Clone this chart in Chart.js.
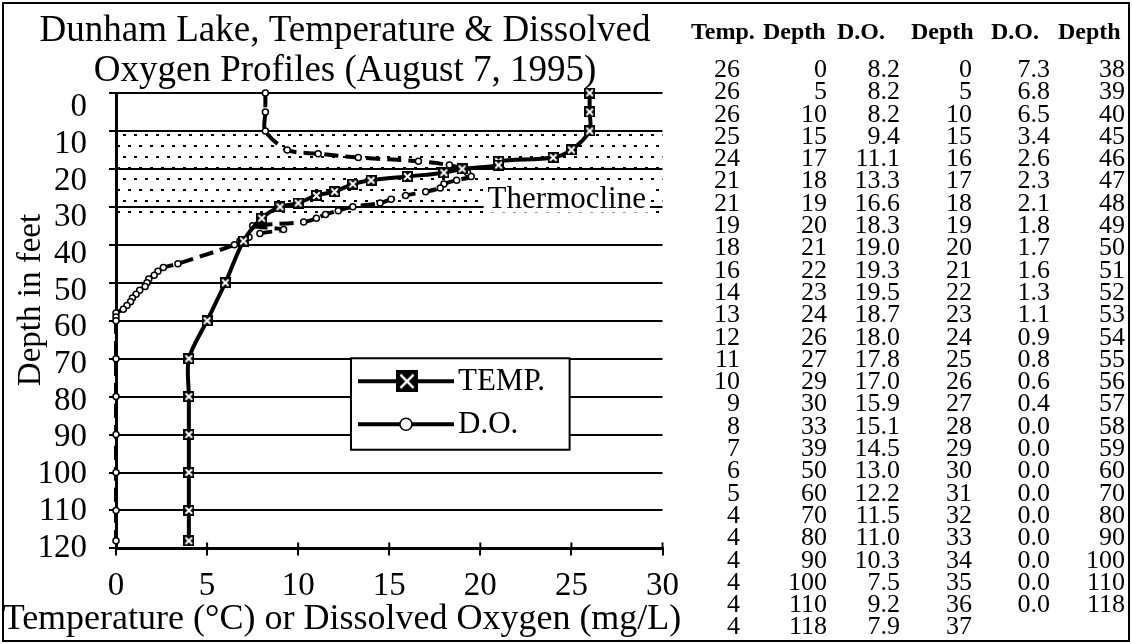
<!DOCTYPE html>
<html><head><meta charset="utf-8">
<script src="https://cdn.jsdelivr.net/npm/chart.js@4.4.0/dist/chart.umd.min.js"></script>
<style>
html,body{margin:0;padding:0;background:#fff;}
#page{position:relative;width:1132px;height:644px;overflow:hidden;background:#fff;}
#frame{position:absolute;left:2px;top:2px;width:1124px;height:636px;border:2px solid #000;pointer-events:none;}
#chartBox{position:absolute;left:0;top:0;width:690px;height:644px;}
#table{position:absolute;left:0;top:0;width:1132px;height:644px;font-family:"Liberation Serif","Times New Roman",serif;color:#000;}
.col{position:absolute;text-align:right;white-space:pre;font-size:26px;line-height:22.3px;}
.hdr{position:absolute;font-size:24px;font-weight:bold;line-height:30px;white-space:pre;}
</style></head>
<body><div id="page"><div id="chartBox"><canvas id="c"></canvas></div><div id="table"></div><div id="frame"></div></div>
<script>
// ---- data ----
const tempValues = [26,26,26,25,24,21,21,19,18,16,14,13,12,11,10,9,8,7,6,5,4,4,4,4,4,4];
const tempDepths = [0,5,10,15,17,18,19,20,21,22,23,24,26,27,29,30,33,39,50,60,70,80,90,100,110,118];
const doValues = [8.2,8.2,8.2,9.4,11.1,13.3,16.6,18.3,19.0,19.3,19.5,18.7,18.0,17.8,17.0,15.9,15.1,14.5,13.0,12.2,11.5,11.0,10.3,7.5,9.2,7.9,
                  7.3,6.8,6.5,3.4,2.6,2.3,2.1,1.8,1.7,1.6,1.3,1.1,0.9,0.8,0.6,0.4,0.0,0.0,0.0,0.0,0.0,0.0,0.0,0.0,0.0];
const doDepths = [0,5,10,15,16,17,18,19,20,21,22,23,24,25,26,27,28,29,30,31,32,33,34,35,36,37,
                  38,39,40,45,46,47,48,49,50,51,52,53,54,55,56,57,58,59,60,70,80,90,100,110,118];
const xTickValues = [0,5,10,15,20,25,30];
const yTickValues = [0,10,20,30,40,50,60,70,80,90,100,110,120];
const tableHeaders = ["Temp.","Depth","D.O.","Depth","D.O.","Depth"];
const titleLines = ["Dunham Lake, Temperature & Dissolved","Oxygen Profiles (August 7, 1995)"];
const xTitle = "Temperature (\u00B0C) or Dissolved Oxygen (mg/L)";
const yTitle = "Depth in feet";
const thermocline = {top:10, bottom:33, label:"Thermocline"};

// ---- table ----
const F = '"Liberation Serif","Times New Roman",serif';
const tableRows = 26;
const columns = [
  tempValues.map(String),
  tempDepths.map(String),
  doValues.slice(0,tableRows).map(v=>v.toFixed(1)),
  doDepths.slice(0,tableRows).map(String),
  doValues.slice(tableRows).map(v=>v.toFixed(1)),
  doDepths.slice(tableRows).map(String)
];
const colRight = [740,827,900,972,1050,1125];
const hdrLeft = [691,763,837,911,991,1058];
const tbl = document.getElementById('table');
columns.forEach((col,i)=>{
  const d=document.createElement('div'); d.className='col';
  d.style.right=(1132-colRight[i])+'px'; d.style.top='58px';
  d.textContent=col.join('\n'); tbl.appendChild(d);
  const h=document.createElement('div'); h.className='hdr';
  h.style.left=hdrLeft[i]+'px'; h.style.top='16px'; h.textContent=tableHeaders[i]; tbl.appendChild(h);
});

// ---- point styles ----
function makeXBox(size, lw){
  const c=document.createElement('canvas'); c.width=c.height=size;
  const g=c.getContext('2d'); g.fillStyle='#000'; g.fillRect(0,0,size,size);
  g.strokeStyle='#fff'; g.lineWidth=lw; const m=size*0.2;
  g.beginPath(); g.moveTo(m,m); g.lineTo(size-m,size-m); g.moveTo(size-m,m); g.lineTo(m,size-m); g.stroke();
  return c;
}
const xBoxSmall = makeXBox(11,2);
const xBoxBig = makeXBox(22,2.5);

function makePattern(ctx){
  const c=document.createElement('canvas'); c.width=11; c.height=22;
  const g=c.getContext('2d'); g.fillStyle='#000';
  g.fillRect(2,2,3,2); g.fillRect(7,13,3,2);
  return ctx.createPattern(c,'repeat');
}

const overlay = {
  id:'overlay',
  beforeDraw(chart){
    const {ctx, scales:{x,y}} = chart;
    const x0=x.getPixelForValue(0), x1=x.getPixelForValue(30);
    const y0=y.getPixelForValue(thermocline.top), y1=y.getPixelForValue(thermocline.bottom);
    ctx.save(); ctx.fillStyle=makePattern(ctx); ctx.fillRect(x0,y0,x1-x0,y1-y0); ctx.restore();
  },
  beforeDatasetsDraw(chart){
    const {ctx, scales:{x,y}} = chart;
    ctx.save();
    ctx.font='31px '+F;
    const tx=x.getPixelForValue(20.4), ty=y.getPixelForValue(30.2);
    const w=ctx.measureText(thermocline.label).width;
    ctx.fillStyle='#fff'; ctx.fillRect(tx-4, ty-23, w+8, 28);
    ctx.fillStyle='#000'; ctx.textBaseline='alphabetic'; ctx.textAlign='left';
    ctx.fillText(thermocline.label, tx, ty);
    // x-axis tick marks crossing above the axis line
    ctx.strokeStyle='#000'; ctx.lineWidth=2;
    const yb=y.getPixelForValue(120);
    ctx.beginPath();
    xTickValues.forEach(v=>{const px=x.getPixelForValue(v); ctx.moveTo(px,yb-6); ctx.lineTo(px,yb);});
    ctx.stroke();
    ctx.restore();
  },
  afterDraw(chart){
    const {ctx, scales:{x,y}} = chart;
    ctx.save();
    // legend
    const L=x.getPixelForValue(12.9), T=y.getPixelForValue(69.9), B=y.getPixelForValue(94.0), R=x.getPixelForValue(24.9);
    ctx.fillStyle='#fff'; ctx.fillRect(L,T,R-L,B-T);
    ctx.strokeStyle='#000'; ctx.lineWidth=2; ctx.strokeRect(L,T,R-L,B-T);
    const r1=T+23, r2=T+66;
    ctx.lineWidth=4;
    ctx.beginPath(); ctx.moveTo(L+7,r1); ctx.lineTo(L+103,r1); ctx.moveTo(L+7,r2); ctx.lineTo(L+103,r2); ctx.stroke();
    ctx.drawImage(xBoxBig, L+45, r1-11);
    ctx.beginPath(); ctx.arc(L+55, r2, 6, 0, Math.PI*2); ctx.fillStyle='#fff'; ctx.fill(); ctx.lineWidth=1.5; ctx.stroke();
    ctx.fillStyle='#000'; ctx.font='31px '+F; ctx.textBaseline='middle'; ctx.textAlign='left';
    ctx.fillText(chart.data.datasets[0].label, L+107, r1+1);
    ctx.fillText(chart.data.datasets[1].label, L+107, r2+1);
    // axis titles
    ctx.font='36px '+F; ctx.textAlign='center'; ctx.textBaseline='middle';
    ctx.fillText(xTitle, 342, 620);
    ctx.translate(31,300); ctx.rotate(-Math.PI/2);
    ctx.font='33px '+F;
    ctx.fillText(yTitle, 0, 0);
    ctx.restore();
  }
};

Chart.defaults.font.family = F;
Chart.defaults.color = '#000';
new Chart(document.getElementById('c'), {
  type:'scatter',
  data:{datasets:[
    {label:'TEMP.', data: tempDepths.map((d,i)=>({x:tempValues[i], y:d})), showLine:true,
     borderColor:'#000', borderWidth:4, tension:0.3, pointStyle:xBoxSmall, pointRadius:6,
     pointBackgroundColor:'#000', pointBorderColor:'#000', clip:false},
    {label:'D.O.', data: doDepths.map((d,i)=>({x:doValues[i], y:d})), showLine:true,
     borderColor:'#000', borderWidth:4, borderDash:[14,7], tension:0.3, pointStyle:'circle', pointRadius:3,
     pointBackgroundColor:'#fff', pointBorderColor:'#000', pointBorderWidth:1.5, clip:false}
  ]},
  options:{
    responsive:true, maintainAspectRatio:false, animation:false,
    layout:{padding:{left:0,right:0,top:0,bottom:27}},
    plugins:{
      legend:{display:false}, tooltip:{enabled:false},
      title:{display:true, text:titleLines, color:'#000', font:{family:F,size:37,weight:'normal',lineHeight:40/37}, padding:{top:11,bottom:2}}
    },
    scales:{
      x:{type:'linear', min:0, max:30, position:'bottom',
         afterBuildTicks:s=>{s.ticks=xTickValues.map(v=>({value:v}));},
         ticks:{font:{size:33}, color:'#000', padding:11, maxRotation:0, autoSkip:false},
         grid:{display:true, drawOnChartArea:false, drawTicks:true, tickLength:7, color:'#000', lineWidth:2},
         border:{display:true, color:'#000', width:3}},
      y:{type:'linear', reverse:true, min:0, max:120, position:'left', weight:0,
         afterBuildTicks:s=>{s.ticks=yTickValues.map(v=>({value:v}));},
         ticks:{display:false},
         grid:{color:'#000', lineWidth:2, drawTicks:true, tickLength:7},
         border:{display:true, color:'#000', width:3},
         afterFit:s=>{s.width=8;}},
      yl:{type:'linear', reverse:true, min:-3.98, max:120.14, position:'left', weight:1,
         afterBuildTicks:s=>{s.ticks=yTickValues.map(v=>({value:v}));},
         ticks:{font:{size:33}, color:'#000', padding:13, autoSkip:false},
         grid:{display:false}, border:{display:false},
         afterFit:s=>{s.width=108;}}
    }
  },
  plugins:[overlay]
});
</script>
</body></html>
